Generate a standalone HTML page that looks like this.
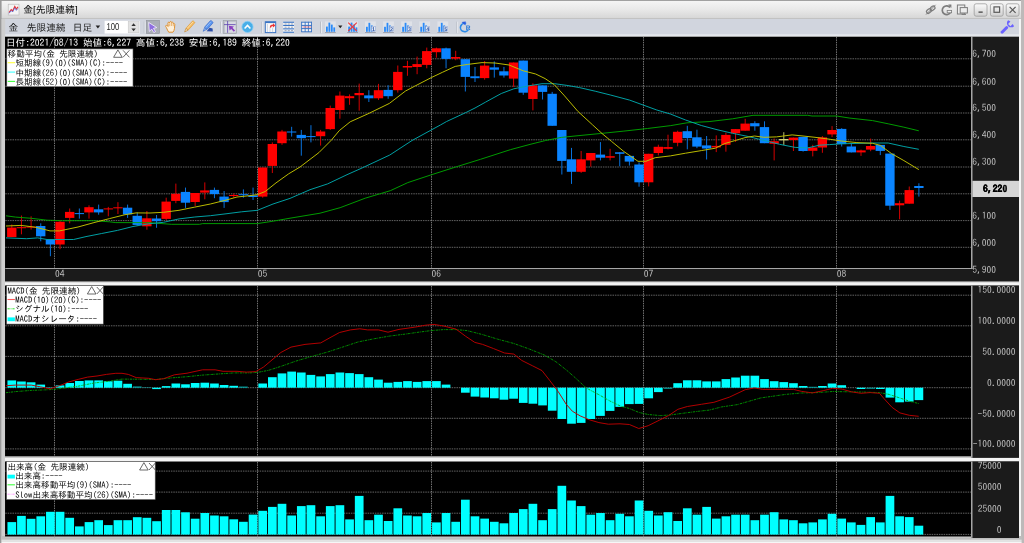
<!DOCTYPE html>
<html lang="ja"><head><meta charset="utf-8"><title>金[先限連続]</title>
<style>html,body{margin:0;padding:0;background:#d2d2d2}body{width:1024px;height:543px;position:relative;overflow:hidden}svg{will-change:transform}svg text{text-rendering:geometricPrecision}</style>
</head><body>
<svg width="1024" height="543" viewBox="0 0 1024 543" style="position:absolute;left:0;top:0">
<defs>
<linearGradient id="tg" x1="0" y1="0" x2="0" y2="1"><stop offset="0" stop-color="#f6f6f6"/><stop offset="0.5" stop-color="#e9e9e9"/><stop offset="1" stop-color="#d6d6d6"/></linearGradient>
<linearGradient id="bg" x1="0" y1="0" x2="0" y2="1"><stop offset="0" stop-color="#fbfbfb"/><stop offset="1" stop-color="#cfcfcf"/></linearGradient>
<clipPath id="cpM"><rect x="5.3" y="37" width="965.7" height="231.5"/></clipPath>
<clipPath id="cpX"><rect x="5.3" y="286" width="965.7" height="170.3"/></clipPath>
<clipPath id="cpA"><rect x="972.5" y="37" width="46.5" height="506"/></clipPath>
</defs>
<rect x="0" y="0" width="1024" height="543" fill="#d2d2d2"/>
<rect x="0" y="0" width="1024" height="18.6" fill="url(#tg)"/>
<rect x="0" y="0" width="1024" height="0.8" fill="#8c8c8c"/>
<rect x="0" y="18.2" width="1024" height="0.8" fill="#bdbdbd"/>
<rect x="2.5" y="19" width="1017" height="16.4" fill="#d1d5de"/>
<rect x="2.5" y="34.2" width="1017" height="2.5" fill="#e4e7ec"/>
<rect x="0" y="0" width="1.6" height="543" fill="#9a9a9a"/>
<rect x="1.6" y="19" width="3.6" height="524" fill="#cfcfcf"/>
<rect x="1019" y="19" width="2" height="520" fill="#f4f4f4"/>
<rect x="1021" y="0" width="3" height="543" fill="#bdb9b9"/>
<rect x="1.6" y="536" width="1020" height="3.8" fill="#bebebe"/>
<rect x="1.6" y="539.7" width="1020" height="2.4" fill="#e2e2e2"/>
<rect x="1.6" y="542" width="1020" height="1" fill="#f6f6f6"/>
<rect x="5" y="36.7" width="1014" height="245.3" fill="#1b1b1b"/>
<rect x="5.3" y="36.7" width="965.7" height="231.6" fill="#000"/>
<rect x="5" y="281.7" width="1014" height="3.8" fill="#f4f4f4"/>
<rect x="5" y="281.7" width="1014" height="1" fill="#d6d6d6"/>
<rect x="5" y="285.4" width="1014" height="172.6" fill="#1b1b1b"/>
<rect x="5.3" y="285.4" width="965.7" height="0.7" fill="#8c8c8c"/>
<rect x="5.3" y="286" width="965.7" height="170.3" fill="#000"/>
<rect x="5" y="456.3" width="966.0" height="1.7" fill="#c4c4c4"/>
<rect x="5" y="457.9" width="1014" height="3.5" fill="#f4f4f4"/>
<rect x="5" y="461.3" width="1014" height="76.7" fill="#1b1b1b"/>
<rect x="5.3" y="461.3" width="965.7" height="0.8" fill="#8c8c8c"/>
<rect x="5.3" y="462" width="965.7" height="74.5" fill="#000"/>
<rect x="5" y="536.5" width="966.0" height="1.6" fill="#c4c4c4"/>
<line x1="5.3" y1="58.8" x2="971.0" y2="58.8" stroke="#8e8e8e" stroke-width="0.7" stroke-dasharray="1.5 0.9" fill="none"/>
<line x1="5.3" y1="86.2" x2="971.0" y2="86.2" stroke="#8e8e8e" stroke-width="0.7" stroke-dasharray="1.5 0.9" fill="none"/>
<line x1="5.3" y1="113.0" x2="971.0" y2="113.0" stroke="#8e8e8e" stroke-width="0.7" stroke-dasharray="1.5 0.9" fill="none"/>
<line x1="5.3" y1="139.8" x2="971.0" y2="139.8" stroke="#8e8e8e" stroke-width="0.7" stroke-dasharray="1.5 0.9" fill="none"/>
<line x1="5.3" y1="167.0" x2="971.0" y2="167.0" stroke="#8e8e8e" stroke-width="0.7" stroke-dasharray="1.5 0.9" fill="none"/>
<line x1="5.3" y1="193.8" x2="971.0" y2="193.8" stroke="#8e8e8e" stroke-width="0.7" stroke-dasharray="1.5 0.9" fill="none"/>
<line x1="5.3" y1="220.6" x2="971.0" y2="220.6" stroke="#8e8e8e" stroke-width="0.7" stroke-dasharray="1.5 0.9" fill="none"/>
<line x1="5.3" y1="247.3" x2="971.0" y2="247.3" stroke="#8e8e8e" stroke-width="0.7" stroke-dasharray="1.5 0.9" fill="none"/>
<line x1="5.3" y1="295.2" x2="971.0" y2="295.2" stroke="#8e8e8e" stroke-width="0.7" stroke-dasharray="1.5 0.9" fill="none"/>
<line x1="5.3" y1="325.8" x2="971.0" y2="325.8" stroke="#8e8e8e" stroke-width="0.7" stroke-dasharray="1.5 0.9" fill="none"/>
<line x1="5.3" y1="356.4" x2="971.0" y2="356.4" stroke="#8e8e8e" stroke-width="0.7" stroke-dasharray="1.5 0.9" fill="none"/>
<line x1="5.3" y1="387.7" x2="971.0" y2="387.7" stroke="#8e8e8e" stroke-width="0.7" stroke-dasharray="1.5 0.9" fill="none"/>
<line x1="5.3" y1="418.3" x2="971.0" y2="418.3" stroke="#8e8e8e" stroke-width="0.7" stroke-dasharray="1.5 0.9" fill="none"/>
<line x1="5.3" y1="448.9" x2="971.0" y2="448.9" stroke="#8e8e8e" stroke-width="0.7" stroke-dasharray="1.5 0.9" fill="none"/>
<line x1="5.3" y1="471.1" x2="971.0" y2="471.1" stroke="#8e8e8e" stroke-width="0.7" stroke-dasharray="1.5 0.9" fill="none"/>
<line x1="5.3" y1="492.1" x2="971.0" y2="492.1" stroke="#8e8e8e" stroke-width="0.7" stroke-dasharray="1.5 0.9" fill="none"/>
<line x1="5.3" y1="513.2" x2="971.0" y2="513.2" stroke="#8e8e8e" stroke-width="0.7" stroke-dasharray="1.5 0.9" fill="none"/>
<line x1="5.3" y1="534.4" x2="971.0" y2="534.4" stroke="#8e8e8e" stroke-width="0.7" stroke-dasharray="1.5 0.9" fill="none"/>
<line x1="54.5" y1="37" x2="54.5" y2="268.5" stroke="#a4a4a4" stroke-width="0.7" stroke-dasharray="1.5 0.9" fill="none"/>
<line x1="54.5" y1="286" x2="54.5" y2="456.3" stroke="#a4a4a4" stroke-width="0.7" stroke-dasharray="1.5 0.9" fill="none"/>
<line x1="54.5" y1="462" x2="54.5" y2="537.8" stroke="#a4a4a4" stroke-width="0.7" stroke-dasharray="1.5 0.9" fill="none"/>
<line x1="257.5" y1="37" x2="257.5" y2="268.5" stroke="#a4a4a4" stroke-width="0.7" stroke-dasharray="1.5 0.9" fill="none"/>
<line x1="257.5" y1="286" x2="257.5" y2="456.3" stroke="#a4a4a4" stroke-width="0.7" stroke-dasharray="1.5 0.9" fill="none"/>
<line x1="257.5" y1="462" x2="257.5" y2="537.8" stroke="#a4a4a4" stroke-width="0.7" stroke-dasharray="1.5 0.9" fill="none"/>
<line x1="431.5" y1="37" x2="431.5" y2="268.5" stroke="#a4a4a4" stroke-width="0.7" stroke-dasharray="1.5 0.9" fill="none"/>
<line x1="431.5" y1="286" x2="431.5" y2="456.3" stroke="#a4a4a4" stroke-width="0.7" stroke-dasharray="1.5 0.9" fill="none"/>
<line x1="431.5" y1="462" x2="431.5" y2="537.8" stroke="#a4a4a4" stroke-width="0.7" stroke-dasharray="1.5 0.9" fill="none"/>
<line x1="643.5" y1="37" x2="643.5" y2="268.5" stroke="#a4a4a4" stroke-width="0.7" stroke-dasharray="1.5 0.9" fill="none"/>
<line x1="643.5" y1="286" x2="643.5" y2="456.3" stroke="#a4a4a4" stroke-width="0.7" stroke-dasharray="1.5 0.9" fill="none"/>
<line x1="643.5" y1="462" x2="643.5" y2="537.8" stroke="#a4a4a4" stroke-width="0.7" stroke-dasharray="1.5 0.9" fill="none"/>
<line x1="836.5" y1="37" x2="836.5" y2="268.5" stroke="#a4a4a4" stroke-width="0.7" stroke-dasharray="1.5 0.9" fill="none"/>
<line x1="836.5" y1="286" x2="836.5" y2="456.3" stroke="#a4a4a4" stroke-width="0.7" stroke-dasharray="1.5 0.9" fill="none"/>
<line x1="836.5" y1="462" x2="836.5" y2="537.8" stroke="#a4a4a4" stroke-width="0.7" stroke-dasharray="1.5 0.9" fill="none"/>
<rect x="5.3" y="268" width="967.2" height="1" fill="#a6a6a6"/>
<rect x="5.3" y="36.3" width="967.2" height="0.7" fill="#b8b8b8"/>
<rect x="971.0" y="37" width="1.5" height="232" fill="#a6a6a6"/>
<rect x="971.0" y="285.4" width="1.5" height="172.5" fill="#a6a6a6"/>
<rect x="971.0" y="461.3" width="1.5" height="76.6" fill="#a6a6a6"/>
<g clip-path="url(#cpM)">
<line x1="11.80" y1="224.5" x2="11.80" y2="237.1" stroke="#e00000" stroke-width="0.95"/>
<rect x="7.10" y="227.6" width="9.35" height="9.5" fill="#ff0000"/>
<line x1="21.45" y1="215.5" x2="21.45" y2="234.3" stroke="#e00000" stroke-width="0.95"/>
<rect x="16.75" y="227.2" width="9.35" height="1.0" fill="#ff0000"/>
<line x1="31.10" y1="216.3" x2="31.10" y2="229.6" stroke="#e00000" stroke-width="0.95"/>
<rect x="26.40" y="226.6" width="9.35" height="1.0" fill="#ff0000"/>
<line x1="40.75" y1="223.3" x2="40.75" y2="241.3" stroke="#0a78e8" stroke-width="0.95"/>
<rect x="36.05" y="226.0" width="9.35" height="10.3" fill="#0a84ff"/>
<line x1="50.40" y1="239.5" x2="50.40" y2="256.2" stroke="#0a78e8" stroke-width="0.95"/>
<rect x="45.70" y="239.5" width="9.35" height="5.0" fill="#0a84ff"/>
<line x1="60.05" y1="221.0" x2="60.05" y2="249.2" stroke="#e00000" stroke-width="0.95"/>
<rect x="55.35" y="221.8" width="9.35" height="22.7" fill="#ff0000"/>
<line x1="69.70" y1="208.5" x2="69.70" y2="223.3" stroke="#e00000" stroke-width="0.95"/>
<rect x="65.00" y="211.9" width="9.35" height="6.0" fill="#ff0000"/>
<line x1="79.35" y1="208.5" x2="79.35" y2="218.6" stroke="#0a78e8" stroke-width="0.95"/>
<rect x="74.65" y="213.1" width="9.35" height="1.0" fill="#0a84ff"/>
<line x1="89.00" y1="205.3" x2="89.00" y2="218.6" stroke="#e00000" stroke-width="0.95"/>
<rect x="84.30" y="207.2" width="9.35" height="5.2" fill="#ff0000"/>
<line x1="98.65" y1="204.6" x2="98.65" y2="214.7" stroke="#0a78e8" stroke-width="0.95"/>
<rect x="93.95" y="209.3" width="9.35" height="3.1" fill="#0a84ff"/>
<line x1="108.30" y1="206.9" x2="108.30" y2="216.3" stroke="#e00000" stroke-width="0.95"/>
<rect x="103.60" y="208.4" width="9.35" height="1.0" fill="#ff0000"/>
<line x1="117.95" y1="202.2" x2="117.95" y2="214.0" stroke="#e00000" stroke-width="0.95"/>
<rect x="113.25" y="207.3" width="9.35" height="1.0" fill="#ff0000"/>
<line x1="127.60" y1="204.6" x2="127.60" y2="217.9" stroke="#0a78e8" stroke-width="0.95"/>
<rect x="122.90" y="207.7" width="9.35" height="6.7" fill="#0a84ff"/>
<line x1="137.25" y1="212.4" x2="137.25" y2="225.7" stroke="#0a78e8" stroke-width="0.95"/>
<rect x="132.55" y="215.8" width="9.35" height="9.1" fill="#0a84ff"/>
<line x1="146.90" y1="211.0" x2="146.90" y2="229.7" stroke="#e00000" stroke-width="0.95"/>
<rect x="142.20" y="218.3" width="9.35" height="8.0" fill="#ff0000"/>
<line x1="156.55" y1="215.0" x2="156.55" y2="227.8" stroke="#0a78e8" stroke-width="0.95"/>
<rect x="151.85" y="218.5" width="9.35" height="2.7" fill="#0a84ff"/>
<line x1="166.20" y1="197.7" x2="166.20" y2="220.4" stroke="#e00000" stroke-width="0.95"/>
<rect x="161.50" y="201.6" width="9.35" height="17.3" fill="#ff0000"/>
<line x1="175.85" y1="183.6" x2="175.85" y2="203.2" stroke="#e00000" stroke-width="0.95"/>
<rect x="171.15" y="193.8" width="9.35" height="7.1" fill="#ff0000"/>
<line x1="185.50" y1="187.6" x2="185.50" y2="207.9" stroke="#0a78e8" stroke-width="0.95"/>
<rect x="180.80" y="191.9" width="9.35" height="10.8" fill="#0a84ff"/>
<line x1="195.15" y1="193.0" x2="195.15" y2="206.0" stroke="#e00000" stroke-width="0.95"/>
<rect x="190.45" y="193.0" width="9.35" height="9.0" fill="#ff0000"/>
<line x1="204.80" y1="182.4" x2="204.80" y2="199.3" stroke="#e00000" stroke-width="0.95"/>
<rect x="200.10" y="190.4" width="9.35" height="2.2" fill="#ff0000"/>
<line x1="214.45" y1="187.6" x2="214.45" y2="198.2" stroke="#0a78e8" stroke-width="0.95"/>
<rect x="209.75" y="189.9" width="9.35" height="4.2" fill="#0a84ff"/>
<line x1="224.10" y1="191.0" x2="224.10" y2="207.9" stroke="#0a78e8" stroke-width="0.95"/>
<rect x="219.40" y="196.6" width="9.35" height="5.5" fill="#0a84ff"/>
<line x1="233.75" y1="193.5" x2="233.75" y2="197.7" stroke="#e00000" stroke-width="0.95"/>
<rect x="229.05" y="195.0" width="9.35" height="1.0" fill="#ff0000"/>
<line x1="243.40" y1="189.4" x2="243.40" y2="197.7" stroke="#0a78e8" stroke-width="0.95"/>
<rect x="238.70" y="194.2" width="9.35" height="1.0" fill="#0a84ff"/>
<line x1="253.05" y1="187.6" x2="253.05" y2="200.0" stroke="#0a78e8" stroke-width="0.95"/>
<rect x="248.35" y="195.4" width="9.35" height="1.6" fill="#0a84ff"/>
<line x1="262.70" y1="167.5" x2="262.70" y2="197.7" stroke="#e00000" stroke-width="0.95"/>
<rect x="258.00" y="167.5" width="9.35" height="29.1" fill="#ff0000"/>
<line x1="272.35" y1="142.4" x2="272.35" y2="173.0" stroke="#e00000" stroke-width="0.95"/>
<rect x="267.65" y="144.0" width="9.35" height="21.9" fill="#ff0000"/>
<line x1="282.00" y1="129.9" x2="282.00" y2="144.8" stroke="#e00000" stroke-width="0.95"/>
<rect x="277.30" y="131.5" width="9.35" height="11.7" fill="#ff0000"/>
<line x1="291.65" y1="126.8" x2="291.65" y2="136.6" stroke="#0a78e8" stroke-width="0.95"/>
<rect x="286.95" y="131.5" width="9.35" height="1.0" fill="#0a84ff"/>
<line x1="301.30" y1="129.9" x2="301.30" y2="155.7" stroke="#0a78e8" stroke-width="0.95"/>
<rect x="296.60" y="134.9" width="9.35" height="3.3" fill="#0a84ff"/>
<line x1="310.95" y1="125.2" x2="310.95" y2="142.4" stroke="#0a78e8" stroke-width="0.95"/>
<rect x="306.25" y="136.1" width="9.35" height="1.0" fill="#0a84ff"/>
<line x1="320.60" y1="129.9" x2="320.60" y2="145.6" stroke="#e00000" stroke-width="0.95"/>
<rect x="315.90" y="131.5" width="9.35" height="4.7" fill="#ff0000"/>
<line x1="330.25" y1="105.6" x2="330.25" y2="129.9" stroke="#e00000" stroke-width="0.95"/>
<rect x="325.55" y="108.0" width="9.35" height="21.1" fill="#ff0000"/>
<line x1="339.90" y1="91.5" x2="339.90" y2="118.7" stroke="#e00000" stroke-width="0.95"/>
<rect x="335.20" y="95.6" width="9.35" height="14.4" fill="#ff0000"/>
<line x1="349.55" y1="94.4" x2="349.55" y2="104.8" stroke="#e00000" stroke-width="0.95"/>
<rect x="344.85" y="96.2" width="9.35" height="2.0" fill="#ff0000"/>
<line x1="359.20" y1="83.6" x2="359.20" y2="110.7" stroke="#e00000" stroke-width="0.95"/>
<rect x="354.50" y="93.0" width="9.35" height="2.2" fill="#ff0000"/>
<line x1="368.85" y1="90.2" x2="368.85" y2="102.0" stroke="#0a78e8" stroke-width="0.95"/>
<rect x="364.15" y="95.4" width="9.35" height="2.9" fill="#0a84ff"/>
<line x1="378.50" y1="83.9" x2="378.50" y2="99.9" stroke="#e00000" stroke-width="0.95"/>
<rect x="373.80" y="90.2" width="9.35" height="8.1" fill="#ff0000"/>
<line x1="388.15" y1="85.2" x2="388.15" y2="98.8" stroke="#0a78e8" stroke-width="0.95"/>
<rect x="383.45" y="89.9" width="9.35" height="6.3" fill="#0a84ff"/>
<line x1="397.80" y1="65.5" x2="397.80" y2="92.6" stroke="#e00000" stroke-width="0.95"/>
<rect x="393.10" y="71.9" width="9.35" height="18.3" fill="#ff0000"/>
<line x1="407.45" y1="60.8" x2="407.45" y2="75.8" stroke="#e00000" stroke-width="0.95"/>
<rect x="402.75" y="66.0" width="9.35" height="1.5" fill="#ff0000"/>
<line x1="417.10" y1="56.6" x2="417.10" y2="74.2" stroke="#e00000" stroke-width="0.95"/>
<rect x="412.40" y="64.1" width="9.35" height="2.9" fill="#ff0000"/>
<line x1="426.75" y1="47.6" x2="426.75" y2="68.3" stroke="#e00000" stroke-width="0.95"/>
<rect x="422.05" y="51.1" width="9.35" height="13.8" fill="#ff0000"/>
<line x1="436.40" y1="47.6" x2="436.40" y2="57.7" stroke="#e00000" stroke-width="0.95"/>
<rect x="431.70" y="48.3" width="9.35" height="3.9" fill="#ff0000"/>
<line x1="446.05" y1="47.6" x2="446.05" y2="68.3" stroke="#0a78e8" stroke-width="0.95"/>
<rect x="441.35" y="48.3" width="9.35" height="10.6" fill="#0a84ff"/>
<line x1="455.70" y1="50.8" x2="455.70" y2="60.2" stroke="#e00000" stroke-width="0.95"/>
<rect x="451.00" y="57.0" width="9.35" height="1.6" fill="#ff0000"/>
<line x1="465.35" y1="59.2" x2="465.35" y2="91.5" stroke="#0a78e8" stroke-width="0.95"/>
<rect x="460.65" y="59.2" width="9.35" height="17.7" fill="#0a84ff"/>
<line x1="475.00" y1="67.0" x2="475.00" y2="82.0" stroke="#0a78e8" stroke-width="0.95"/>
<rect x="470.30" y="76.3" width="9.35" height="1.9" fill="#0a84ff"/>
<line x1="484.65" y1="61.0" x2="484.65" y2="79.7" stroke="#e00000" stroke-width="0.95"/>
<rect x="479.95" y="65.6" width="9.35" height="12.5" fill="#ff0000"/>
<line x1="494.30" y1="61.4" x2="494.30" y2="77.6" stroke="#0a78e8" stroke-width="0.95"/>
<rect x="489.60" y="67.4" width="9.35" height="2.3" fill="#0a84ff"/>
<line x1="503.95" y1="66.9" x2="503.95" y2="77.6" stroke="#0a78e8" stroke-width="0.95"/>
<rect x="499.25" y="71.3" width="9.35" height="4.2" fill="#0a84ff"/>
<line x1="513.60" y1="62.5" x2="513.60" y2="86.9" stroke="#e00000" stroke-width="0.95"/>
<rect x="508.90" y="62.5" width="9.35" height="16.1" fill="#ff0000"/>
<line x1="523.25" y1="60.6" x2="523.25" y2="94.8" stroke="#0a78e8" stroke-width="0.95"/>
<rect x="518.55" y="60.6" width="9.35" height="32.1" fill="#0a84ff"/>
<line x1="532.90" y1="83.3" x2="532.90" y2="110.4" stroke="#e00000" stroke-width="0.95"/>
<rect x="528.20" y="85.4" width="9.35" height="13.6" fill="#ff0000"/>
<line x1="542.55" y1="85.4" x2="542.55" y2="99.5" stroke="#0a78e8" stroke-width="0.95"/>
<rect x="537.85" y="85.4" width="9.35" height="6.5" fill="#0a84ff"/>
<line x1="552.20" y1="91.9" x2="552.20" y2="125.8" stroke="#0a78e8" stroke-width="0.95"/>
<rect x="547.50" y="93.8" width="9.35" height="32.0" fill="#0a84ff"/>
<line x1="561.85" y1="130.0" x2="561.85" y2="174.5" stroke="#0a78e8" stroke-width="0.95"/>
<rect x="557.15" y="130.0" width="9.35" height="30.9" fill="#0a84ff"/>
<line x1="571.50" y1="147.9" x2="571.50" y2="183.9" stroke="#0a78e8" stroke-width="0.95"/>
<rect x="566.80" y="159.3" width="9.35" height="12.5" fill="#0a84ff"/>
<line x1="581.15" y1="151.0" x2="581.15" y2="172.9" stroke="#e00000" stroke-width="0.95"/>
<rect x="576.45" y="159.3" width="9.35" height="12.5" fill="#ff0000"/>
<line x1="590.80" y1="153.0" x2="590.80" y2="166.7" stroke="#e00000" stroke-width="0.95"/>
<rect x="586.10" y="153.0" width="9.35" height="7.4" fill="#ff0000"/>
<line x1="600.45" y1="142.1" x2="600.45" y2="160.4" stroke="#0a78e8" stroke-width="0.95"/>
<rect x="595.75" y="154.6" width="9.35" height="3.1" fill="#0a84ff"/>
<line x1="610.10" y1="148.8" x2="610.10" y2="160.4" stroke="#e00000" stroke-width="0.95"/>
<rect x="605.40" y="156.2" width="9.35" height="1.5" fill="#ff0000"/>
<line x1="619.75" y1="152.3" x2="619.75" y2="166.3" stroke="#0a78e8" stroke-width="0.95"/>
<rect x="615.05" y="152.3" width="9.35" height="1.5" fill="#0a84ff"/>
<line x1="629.40" y1="155.9" x2="629.40" y2="165.6" stroke="#0a78e8" stroke-width="0.95"/>
<rect x="624.70" y="155.9" width="9.35" height="5.7" fill="#0a84ff"/>
<line x1="639.05" y1="162.4" x2="639.05" y2="186.7" stroke="#0a78e8" stroke-width="0.95"/>
<rect x="634.35" y="164.5" width="9.35" height="17.8" fill="#0a84ff"/>
<line x1="648.70" y1="153.8" x2="648.70" y2="186.4" stroke="#e00000" stroke-width="0.95"/>
<rect x="644.00" y="153.8" width="9.35" height="28.5" fill="#ff0000"/>
<line x1="658.35" y1="144.7" x2="658.35" y2="155.4" stroke="#e00000" stroke-width="0.95"/>
<rect x="653.65" y="146.8" width="9.35" height="6.2" fill="#ff0000"/>
<line x1="668.00" y1="134.7" x2="668.00" y2="149.4" stroke="#e00000" stroke-width="0.95"/>
<rect x="663.30" y="147.1" width="9.35" height="1.7" fill="#ff0000"/>
<line x1="677.65" y1="130.7" x2="677.65" y2="146.3" stroke="#e00000" stroke-width="0.95"/>
<rect x="672.95" y="131.8" width="9.35" height="11.0" fill="#ff0000"/>
<line x1="687.30" y1="125.8" x2="687.30" y2="149.3" stroke="#0a78e8" stroke-width="0.95"/>
<rect x="682.60" y="131.2" width="9.35" height="6.9" fill="#0a84ff"/>
<line x1="696.95" y1="129.7" x2="696.95" y2="148.2" stroke="#0a78e8" stroke-width="0.95"/>
<rect x="692.25" y="137.3" width="9.35" height="9.3" fill="#0a84ff"/>
<line x1="706.60" y1="136.0" x2="706.60" y2="159.5" stroke="#0a78e8" stroke-width="0.95"/>
<rect x="701.90" y="145.4" width="9.35" height="3.1" fill="#0a84ff"/>
<line x1="716.25" y1="135.4" x2="716.25" y2="152.1" stroke="#e00000" stroke-width="0.95"/>
<rect x="711.55" y="145.9" width="9.35" height="1.5" fill="#ff0000"/>
<line x1="725.90" y1="132.6" x2="725.90" y2="151.7" stroke="#e00000" stroke-width="0.95"/>
<rect x="721.20" y="134.9" width="9.35" height="9.9" fill="#ff0000"/>
<line x1="735.55" y1="129.1" x2="735.55" y2="141.9" stroke="#e00000" stroke-width="0.95"/>
<rect x="730.85" y="129.1" width="9.35" height="4.2" fill="#ff0000"/>
<line x1="745.20" y1="118.8" x2="745.20" y2="130.7" stroke="#e00000" stroke-width="0.95"/>
<rect x="740.50" y="123.6" width="9.35" height="7.1" fill="#ff0000"/>
<line x1="754.85" y1="121.3" x2="754.85" y2="130.7" stroke="#0a78e8" stroke-width="0.95"/>
<rect x="750.15" y="123.2" width="9.35" height="3.1" fill="#0a84ff"/>
<line x1="764.50" y1="121.3" x2="764.50" y2="143.2" stroke="#0a78e8" stroke-width="0.95"/>
<rect x="759.80" y="127.1" width="9.35" height="16.1" fill="#0a84ff"/>
<line x1="774.15" y1="138.5" x2="774.15" y2="160.4" stroke="#e00000" stroke-width="0.95"/>
<rect x="769.45" y="141.2" width="9.35" height="2.6" fill="#ff0000"/>
<line x1="783.80" y1="132.2" x2="783.80" y2="145.1" stroke="#c8c870" stroke-width="0.95"/>
<rect x="779.10" y="139.0" width="9.35" height="1.4" fill="#d2d278"/>
<line x1="793.45" y1="137.6" x2="793.45" y2="151.0" stroke="#e00000" stroke-width="0.95"/>
<rect x="788.75" y="137.6" width="9.35" height="2.5" fill="#ff0000"/>
<line x1="803.10" y1="136.9" x2="803.10" y2="151.6" stroke="#0a78e8" stroke-width="0.95"/>
<rect x="798.40" y="136.9" width="9.35" height="14.1" fill="#0a84ff"/>
<line x1="812.75" y1="144.8" x2="812.75" y2="156.4" stroke="#e00000" stroke-width="0.95"/>
<rect x="808.05" y="147.5" width="9.35" height="3.3" fill="#ff0000"/>
<line x1="822.40" y1="136.1" x2="822.40" y2="152.8" stroke="#e00000" stroke-width="0.95"/>
<rect x="817.70" y="137.4" width="9.35" height="10.1" fill="#ff0000"/>
<line x1="832.05" y1="126.1" x2="832.05" y2="137.1" stroke="#e00000" stroke-width="0.95"/>
<rect x="827.35" y="130.0" width="9.35" height="4.4" fill="#ff0000"/>
<line x1="841.70" y1="128.2" x2="841.70" y2="146.5" stroke="#0a78e8" stroke-width="0.95"/>
<rect x="837.00" y="128.9" width="9.35" height="15.2" fill="#0a84ff"/>
<line x1="851.35" y1="143.3" x2="851.35" y2="152.4" stroke="#0a78e8" stroke-width="0.95"/>
<rect x="846.65" y="146.5" width="9.35" height="5.9" fill="#0a84ff"/>
<line x1="861.00" y1="149.6" x2="861.00" y2="155.9" stroke="#e00000" stroke-width="0.95"/>
<rect x="856.30" y="150.4" width="9.35" height="2.0" fill="#ff0000"/>
<line x1="870.65" y1="138.6" x2="870.65" y2="151.2" stroke="#e00000" stroke-width="0.95"/>
<rect x="865.95" y="146.0" width="9.35" height="3.6" fill="#ff0000"/>
<line x1="880.30" y1="144.9" x2="880.30" y2="155.1" stroke="#0a78e8" stroke-width="0.95"/>
<rect x="875.60" y="144.9" width="9.35" height="6.0" fill="#0a84ff"/>
<line x1="889.95" y1="153.6" x2="889.95" y2="209.9" stroke="#0a78e8" stroke-width="0.95"/>
<rect x="885.25" y="153.6" width="9.35" height="52.1" fill="#0a84ff"/>
<line x1="899.60" y1="200.6" x2="899.60" y2="219.3" stroke="#e00000" stroke-width="0.95"/>
<rect x="894.90" y="203.2" width="9.35" height="2.1" fill="#ff0000"/>
<line x1="909.25" y1="186.5" x2="909.25" y2="203.7" stroke="#e00000" stroke-width="0.95"/>
<rect x="904.55" y="190.1" width="9.35" height="13.6" fill="#ff0000"/>
<line x1="918.90" y1="183.3" x2="918.90" y2="196.6" stroke="#0a78e8" stroke-width="0.95"/>
<rect x="914.20" y="186.0" width="9.35" height="2.0" fill="#0a84ff"/>
</g>
<g clip-path="url(#cpM)" fill="none" stroke-width="0.95" stroke-linejoin="round">
<polyline points="6.0,215.8 15.6,217.1 31.3,218.3 47.0,220.2 62.6,220.7 94.0,220.7 109.5,221.8 115.8,222.6 150.0,222.7 171.3,224.3 199.5,224.3 202.6,223.6 257.4,223.6 273.0,221.2 290.0,218.2 320.0,213.2 340.1,207.7 365.2,198.2 390.3,190.7 407.8,182.6 430.4,175.1 455.4,167.1 480.5,159.3 510.6,149.6 530.0,144.4 545.6,140.5 561.3,137.4 577.0,135.8 600.4,133.5 623.9,131.1 647.4,128.5 670.8,125.6 687.0,122.8 709.1,121.6 732.6,118.8 753.0,115.3 807.7,115.3 812.0,116.0 836.6,116.0 849.1,118.0 872.6,120.6 888.2,123.8 903.9,127.2 918.8,130.8" stroke="#00a200"/>
<polyline points="6.0,237.9 26.6,238.7 37.6,237.9 47.0,239.5 73.6,239.5 86.0,236.6 101.7,233.5 117.4,230.4 133.0,226.5 148.7,223.8 163.5,222.3 179.0,218.9 194.8,217.0 210.4,215.7 226.0,213.8 241.7,211.8 257.4,210.3 273.0,204.0 290.0,198.4 310.0,189.7 327.6,183.9 347.0,174.7 362.0,168.0 389.8,155.0 412.0,140.5 440.4,125.0 446.6,121.5 466.2,112.4 475.0,108.0 485.6,102.1 501.3,93.5 513.8,88.8 529.5,85.7 542.0,83.7 554.5,83.7 567.0,85.4 579.5,87.6 595.2,91.2 610.8,95.1 629.6,100.1 656.8,110.0 670.4,114.0 685.6,120.0 701.3,125.5 717.0,129.7 732.6,133.3 748.2,136.5 763.9,140.4 779.5,144.3 795.2,147.4 807.7,147.9 819.4,145.2 829.6,144.6 841.3,143.8 872.6,143.0 888.2,143.0 903.9,146.5 918.8,149.3" stroke="#00a8ac"/>
<polyline points="6.0,226.0 21.0,225.4 36.0,227.3 50.0,230.9 59.5,230.9 78.0,227.0 94.0,222.6 109.5,218.6 125.0,214.7 136.0,212.9 150.0,213.0 163.5,212.3 179.0,210.3 194.8,207.1 210.4,204.0 226.0,200.1 237.0,197.0 249.5,195.7 257.4,194.6 265.2,191.5 276.0,182.9 288.7,173.8 300.0,167.0 318.9,152.6 331.4,140.1 339.2,130.7 350.2,121.8 368.0,113.8 389.4,103.4 405.5,91.0 414.5,86.3 431.7,77.4 442.7,72.2 455.2,66.4 467.7,64.4 482.0,62.6 495.0,63.0 509.1,65.0 523.2,70.8 535.7,74.0 545.1,78.6 554.5,84.9 563.9,95.1 578.0,111.5 592.6,124.9 602.0,133.5 611.4,141.3 623.9,151.5 638.0,161.3 645.8,161.3 655.2,157.7 670.4,155.9 685.6,153.2 701.3,150.6 715.4,148.2 724.8,143.5 735.7,140.4 745.1,137.6 754.5,136.0 763.9,137.3 776.4,136.9 792.1,134.9 803.0,136.0 814.0,137.2 825.6,138.6 841.3,141.0 856.9,142.6 872.6,143.3 880.4,145.4 891.4,153.5 903.9,160.6 918.8,169.6" stroke="#c4c400"/>
</g>
<g clip-path="url(#cpX)">
<rect x="7.45" y="380.4" width="8.7" height="7.3" fill="#00ffff"/>
<rect x="17.10" y="381.5" width="8.7" height="6.2" fill="#00ffff"/>
<rect x="26.75" y="382.3" width="8.7" height="5.4" fill="#00ffff"/>
<rect x="36.40" y="384.6" width="8.7" height="3.1" fill="#00ffff"/>
<rect x="46.05" y="387.2" width="8.7" height="0.5" fill="#00b4b4"/>
<rect x="55.70" y="385.4" width="8.7" height="2.3" fill="#00ffff"/>
<rect x="65.35" y="383.0" width="8.7" height="4.7" fill="#00ffff"/>
<rect x="75.00" y="381.0" width="8.7" height="6.7" fill="#00ffff"/>
<rect x="84.65" y="380.4" width="8.7" height="7.3" fill="#00ffff"/>
<rect x="94.30" y="380.4" width="8.7" height="7.3" fill="#00ffff"/>
<rect x="103.95" y="381.2" width="8.7" height="6.5" fill="#00ffff"/>
<rect x="113.60" y="380.7" width="8.7" height="7.0" fill="#00ffff"/>
<rect x="123.25" y="383.8" width="8.7" height="3.9" fill="#00ffff"/>
<rect x="132.90" y="386.5" width="8.7" height="1.2" fill="#00b4b4"/>
<rect x="142.55" y="387.3" width="8.7" height="0.4" fill="#00b4b4"/>
<rect x="152.20" y="387.7" width="8.7" height="1.4" fill="#00ffff"/>
<rect x="161.85" y="386.1" width="8.7" height="1.6" fill="#00ffff"/>
<rect x="171.50" y="383.5" width="8.7" height="4.2" fill="#00ffff"/>
<rect x="181.15" y="384.3" width="8.7" height="3.4" fill="#00ffff"/>
<rect x="190.80" y="383.0" width="8.7" height="4.7" fill="#00ffff"/>
<rect x="200.45" y="382.7" width="8.7" height="5.0" fill="#00ffff"/>
<rect x="210.10" y="383.5" width="8.7" height="4.2" fill="#00ffff"/>
<rect x="219.75" y="385.0" width="8.7" height="2.7" fill="#00ffff"/>
<rect x="229.40" y="385.8" width="8.7" height="1.9" fill="#00ffff"/>
<rect x="239.05" y="386.6" width="8.7" height="1.1" fill="#00b4b4"/>
<rect x="258.35" y="383.5" width="8.7" height="4.2" fill="#00ffff"/>
<rect x="268.00" y="377.2" width="8.7" height="10.5" fill="#00ffff"/>
<rect x="277.65" y="373.4" width="8.7" height="14.3" fill="#00ffff"/>
<rect x="287.30" y="371.6" width="8.7" height="16.1" fill="#00ffff"/>
<rect x="296.95" y="372.5" width="8.7" height="15.2" fill="#00ffff"/>
<rect x="306.60" y="374.9" width="8.7" height="12.8" fill="#00ffff"/>
<rect x="316.25" y="376.4" width="8.7" height="11.3" fill="#00ffff"/>
<rect x="325.90" y="374.1" width="8.7" height="13.6" fill="#00ffff"/>
<rect x="335.55" y="372.5" width="8.7" height="15.2" fill="#00ffff"/>
<rect x="345.20" y="373.1" width="8.7" height="14.6" fill="#00ffff"/>
<rect x="354.85" y="374.1" width="8.7" height="13.6" fill="#00ffff"/>
<rect x="364.50" y="377.2" width="8.7" height="10.5" fill="#00ffff"/>
<rect x="374.15" y="379.6" width="8.7" height="8.1" fill="#00ffff"/>
<rect x="383.80" y="382.7" width="8.7" height="5.0" fill="#00ffff"/>
<rect x="393.45" y="381.9" width="8.7" height="5.8" fill="#00ffff"/>
<rect x="403.10" y="381.1" width="8.7" height="6.6" fill="#00ffff"/>
<rect x="412.75" y="381.9" width="8.7" height="5.8" fill="#00ffff"/>
<rect x="422.40" y="381.1" width="8.7" height="6.6" fill="#00ffff"/>
<rect x="432.05" y="381.1" width="8.7" height="6.6" fill="#00ffff"/>
<rect x="441.70" y="384.6" width="8.7" height="3.1" fill="#00ffff"/>
<rect x="461.00" y="387.7" width="8.7" height="5.0" fill="#00ffff"/>
<rect x="470.65" y="387.7" width="8.7" height="8.9" fill="#00ffff"/>
<rect x="480.30" y="387.7" width="8.7" height="9.8" fill="#00ffff"/>
<rect x="489.95" y="387.7" width="8.7" height="10.6" fill="#00ffff"/>
<rect x="499.60" y="387.7" width="8.7" height="12.0" fill="#00ffff"/>
<rect x="509.25" y="387.7" width="8.7" height="11.0" fill="#00ffff"/>
<rect x="518.90" y="387.7" width="8.7" height="15.2" fill="#00ffff"/>
<rect x="528.55" y="387.7" width="8.7" height="16.0" fill="#00ffff"/>
<rect x="538.20" y="387.7" width="8.7" height="17.7" fill="#00ffff"/>
<rect x="547.85" y="387.7" width="8.7" height="23.0" fill="#00ffff"/>
<rect x="557.50" y="387.7" width="8.7" height="31.3" fill="#00ffff"/>
<rect x="567.15" y="387.7" width="8.7" height="36.0" fill="#00ffff"/>
<rect x="576.80" y="387.7" width="8.7" height="35.2" fill="#00ffff"/>
<rect x="586.45" y="387.7" width="8.7" height="31.3" fill="#00ffff"/>
<rect x="596.10" y="387.7" width="8.7" height="28.2" fill="#00ffff"/>
<rect x="605.75" y="387.7" width="8.7" height="23.2" fill="#00ffff"/>
<rect x="615.40" y="387.7" width="8.7" height="19.2" fill="#00ffff"/>
<rect x="625.05" y="387.7" width="8.7" height="16.4" fill="#00ffff"/>
<rect x="634.70" y="387.7" width="8.7" height="16.2" fill="#00ffff"/>
<rect x="644.35" y="387.7" width="8.7" height="10.6" fill="#00ffff"/>
<rect x="654.00" y="387.7" width="8.7" height="4.4" fill="#00ffff"/>
<rect x="663.65" y="387.7" width="8.7" height="1.0" fill="#00b4b4"/>
<rect x="673.30" y="383.2" width="8.7" height="4.5" fill="#00ffff"/>
<rect x="682.95" y="380.3" width="8.7" height="7.4" fill="#00ffff"/>
<rect x="692.60" y="380.3" width="8.7" height="7.4" fill="#00ffff"/>
<rect x="702.25" y="381.4" width="8.7" height="6.3" fill="#00ffff"/>
<rect x="711.90" y="381.4" width="8.7" height="6.3" fill="#00ffff"/>
<rect x="721.55" y="379.1" width="8.7" height="8.6" fill="#00ffff"/>
<rect x="731.20" y="377.5" width="8.7" height="10.2" fill="#00ffff"/>
<rect x="740.85" y="375.7" width="8.7" height="12.0" fill="#00ffff"/>
<rect x="750.50" y="375.7" width="8.7" height="12.0" fill="#00ffff"/>
<rect x="760.15" y="379.1" width="8.7" height="8.6" fill="#00ffff"/>
<rect x="769.80" y="381.2" width="8.7" height="6.5" fill="#00ffff"/>
<rect x="779.45" y="382.1" width="8.7" height="5.6" fill="#00ffff"/>
<rect x="789.10" y="383.2" width="8.7" height="4.5" fill="#00ffff"/>
<rect x="798.75" y="386.0" width="8.7" height="1.7" fill="#00ffff"/>
<rect x="808.40" y="386.8" width="8.7" height="0.9" fill="#00b4b4"/>
<rect x="818.05" y="386.0" width="8.7" height="1.7" fill="#00ffff"/>
<rect x="827.70" y="383.5" width="8.7" height="4.2" fill="#00ffff"/>
<rect x="837.35" y="385.2" width="8.7" height="2.5" fill="#00ffff"/>
<rect x="856.65" y="387.7" width="8.7" height="1.3" fill="#00ffff"/>
<rect x="866.30" y="387.7" width="8.7" height="1.0" fill="#00b4b4"/>
<rect x="875.95" y="387.7" width="8.7" height="1.3" fill="#00ffff"/>
<rect x="885.60" y="387.7" width="8.7" height="9.9" fill="#00ffff"/>
<rect x="895.25" y="387.7" width="8.7" height="14.6" fill="#00ffff"/>
<rect x="904.90" y="387.7" width="8.7" height="13.9" fill="#00ffff"/>
<rect x="914.55" y="387.7" width="8.7" height="12.4" fill="#00ffff"/>
<polyline points="6.0,392.7 15.6,391.6 31.3,390.4 47.0,389.8 54.8,389.3 62.6,388.2 78.2,386.2 94.0,383.0 109.5,381.2 122.0,379.1 140.0,379.2 155.6,379.5 171.3,377.9 187.0,376.7 202.6,375.1 218.2,374.0 233.9,372.9 249.5,372.9 257.4,372.4 268.3,370.4 280.8,366.4 295.6,361.2 311.3,356.5 327.0,352.2 342.6,347.1 358.2,341.9 373.9,338.8 389.5,336.1 405.2,334.1 420.8,331.9 431.0,330.6 443.5,329.6 456.0,329.6 467.0,330.6 482.6,334.6 498.2,339.3 513.9,343.5 529.5,349.1 545.2,355.4 556.1,361.9 567.1,370.6 575.5,378.0 586.2,388.0 598.9,394.7 609.9,401.0 620.8,406.2 629.4,408.5 638.8,412.4 648.2,414.5 660.7,415.6 671.6,414.8 685.7,412.9 698.2,411.3 709.2,410.1 721.7,406.9 737.4,404.6 749.9,401.0 760.8,397.9 770.2,396.6 785.6,394.4 801.3,393.0 817.0,392.6 832.6,391.5 848.2,391.8 863.9,392.1 879.5,392.6 889.0,394.4 899.9,398.0 910.8,401.6 918.7,403.5" fill="none" stroke="#00a800" stroke-width="0.85" stroke-dasharray="2.4 0.8 0.8 0.8"/>
<polyline points="6.0,385.7 15.6,385.1 31.3,385.1 40.7,386.9 50.0,388.8 59.5,385.7 68.9,381.9 78.2,379.4 87.6,377.1 97.0,376.0 106.4,374.4 115.8,373.3 122.0,373.3 128.3,374.4 136.2,377.6 148.7,378.3 155.6,379.7 163.5,378.7 174.4,374.8 187.0,373.2 202.6,369.8 215.1,369.8 223.0,371.3 237.0,371.3 246.4,372.1 255.8,371.6 263.6,367.0 273.0,359.1 280.8,352.5 291.0,347.1 305.0,344.4 320.7,342.9 330.0,337.7 339.5,332.5 350.4,329.9 359.8,328.8 367.6,329.9 378.6,329.9 388.0,332.2 399.0,329.4 414.6,327.2 425.5,325.2 434.0,324.4 443.5,326.0 456.0,329.1 465.4,336.1 474.8,342.4 482.6,344.4 493.6,348.6 504.5,353.0 513.9,354.1 521.7,360.4 532.7,365.9 542.0,370.6 549.9,380.7 558.2,391.6 566.1,404.1 572.3,411.2 580.2,415.9 589.5,419.8 598.9,422.6 608.3,424.2 620.0,423.8 629.4,424.5 638.8,428.5 648.2,425.7 659.1,420.3 668.5,415.6 677.9,409.3 687.3,406.5 701.4,404.3 713.9,402.3 729.5,397.1 745.2,389.7 754.6,387.9 762.4,389.4 793.5,389.4 801.3,391.3 812.3,392.9 823.2,390.7 832.6,388.3 842.0,389.1 851.4,391.8 860.8,393.3 870.2,392.6 879.5,393.3 884.2,398.8 892.1,407.4 899.9,412.9 909.3,415.3 918.7,416.3" fill="none" stroke="#bc0000" stroke-width="0.95" stroke-linejoin="round"/>
</g>
<rect x="7.45" y="522.1" width="8.7" height="12.5" fill="#00ffff"/>
<rect x="17.10" y="515.9" width="8.7" height="18.7" fill="#00ffff"/>
<rect x="26.75" y="518.8" width="8.7" height="15.8" fill="#00ffff"/>
<rect x="36.40" y="516.3" width="8.7" height="18.3" fill="#00ffff"/>
<rect x="46.05" y="511.8" width="8.7" height="22.8" fill="#00ffff"/>
<rect x="55.70" y="511.8" width="8.7" height="22.8" fill="#00ffff"/>
<rect x="65.35" y="517.8" width="8.7" height="16.8" fill="#00ffff"/>
<rect x="75.00" y="526.4" width="8.7" height="8.2" fill="#00ffff"/>
<rect x="84.65" y="522.1" width="8.7" height="12.5" fill="#00ffff"/>
<rect x="94.30" y="520.2" width="8.7" height="14.4" fill="#00ffff"/>
<rect x="103.95" y="525.1" width="8.7" height="9.5" fill="#00ffff"/>
<rect x="113.60" y="520.2" width="8.7" height="14.4" fill="#00ffff"/>
<rect x="123.25" y="520.2" width="8.7" height="14.4" fill="#00ffff"/>
<rect x="132.90" y="517.2" width="8.7" height="17.4" fill="#00ffff"/>
<rect x="142.55" y="517.8" width="8.7" height="16.8" fill="#00ffff"/>
<rect x="152.20" y="521.2" width="8.7" height="13.4" fill="#00ffff"/>
<rect x="161.85" y="510.0" width="8.7" height="24.6" fill="#00ffff"/>
<rect x="171.50" y="510.0" width="8.7" height="24.6" fill="#00ffff"/>
<rect x="181.15" y="512.3" width="8.7" height="22.3" fill="#00ffff"/>
<rect x="190.80" y="518.7" width="8.7" height="15.9" fill="#00ffff"/>
<rect x="200.45" y="513.0" width="8.7" height="21.6" fill="#00ffff"/>
<rect x="210.10" y="515.5" width="8.7" height="19.1" fill="#00ffff"/>
<rect x="219.75" y="516.3" width="8.7" height="18.3" fill="#00ffff"/>
<rect x="229.40" y="519.3" width="8.7" height="15.3" fill="#00ffff"/>
<rect x="239.05" y="521.8" width="8.7" height="12.8" fill="#00ffff"/>
<rect x="248.70" y="514.6" width="8.7" height="20.0" fill="#00ffff"/>
<rect x="258.35" y="510.8" width="8.7" height="23.8" fill="#00ffff"/>
<rect x="268.00" y="506.9" width="8.7" height="27.7" fill="#00ffff"/>
<rect x="277.65" y="503.8" width="8.7" height="30.8" fill="#00ffff"/>
<rect x="287.30" y="515.5" width="8.7" height="19.1" fill="#00ffff"/>
<rect x="296.95" y="506.1" width="8.7" height="28.5" fill="#00ffff"/>
<rect x="306.60" y="505.2" width="8.7" height="29.4" fill="#00ffff"/>
<rect x="316.25" y="516.3" width="8.7" height="18.3" fill="#00ffff"/>
<rect x="325.90" y="506.1" width="8.7" height="28.5" fill="#00ffff"/>
<rect x="335.55" y="505.2" width="8.7" height="29.4" fill="#00ffff"/>
<rect x="345.20" y="519.4" width="8.7" height="15.2" fill="#00ffff"/>
<rect x="354.85" y="495.9" width="8.7" height="38.7" fill="#00ffff"/>
<rect x="364.50" y="520.2" width="8.7" height="14.4" fill="#00ffff"/>
<rect x="374.15" y="514.7" width="8.7" height="19.9" fill="#00ffff"/>
<rect x="383.80" y="521.0" width="8.7" height="13.6" fill="#00ffff"/>
<rect x="393.45" y="508.3" width="8.7" height="26.3" fill="#00ffff"/>
<rect x="403.10" y="515.5" width="8.7" height="19.1" fill="#00ffff"/>
<rect x="412.75" y="516.3" width="8.7" height="18.3" fill="#00ffff"/>
<rect x="422.40" y="513.0" width="8.7" height="21.6" fill="#00ffff"/>
<rect x="432.05" y="522.4" width="8.7" height="12.2" fill="#00ffff"/>
<rect x="441.70" y="513.0" width="8.7" height="21.6" fill="#00ffff"/>
<rect x="451.35" y="521.8" width="8.7" height="12.8" fill="#00ffff"/>
<rect x="461.00" y="499.7" width="8.7" height="34.9" fill="#00ffff"/>
<rect x="470.65" y="516.3" width="8.7" height="18.3" fill="#00ffff"/>
<rect x="480.30" y="518.6" width="8.7" height="16.0" fill="#00ffff"/>
<rect x="489.95" y="521.8" width="8.7" height="12.8" fill="#00ffff"/>
<rect x="499.60" y="523.3" width="8.7" height="11.3" fill="#00ffff"/>
<rect x="509.25" y="513.0" width="8.7" height="21.6" fill="#00ffff"/>
<rect x="518.90" y="509.1" width="8.7" height="25.5" fill="#00ffff"/>
<rect x="528.55" y="503.8" width="8.7" height="30.8" fill="#00ffff"/>
<rect x="538.20" y="520.2" width="8.7" height="14.4" fill="#00ffff"/>
<rect x="547.85" y="509.1" width="8.7" height="25.5" fill="#00ffff"/>
<rect x="557.50" y="485.8" width="8.7" height="48.8" fill="#00ffff"/>
<rect x="567.15" y="500.5" width="8.7" height="34.1" fill="#00ffff"/>
<rect x="576.80" y="506.1" width="8.7" height="28.5" fill="#00ffff"/>
<rect x="586.45" y="514.7" width="8.7" height="19.9" fill="#00ffff"/>
<rect x="596.10" y="513.0" width="8.7" height="21.6" fill="#00ffff"/>
<rect x="605.75" y="520.2" width="8.7" height="14.4" fill="#00ffff"/>
<rect x="615.40" y="513.8" width="8.7" height="20.8" fill="#00ffff"/>
<rect x="625.05" y="516.3" width="8.7" height="18.3" fill="#00ffff"/>
<rect x="634.70" y="500.5" width="8.7" height="34.1" fill="#00ffff"/>
<rect x="644.35" y="510.8" width="8.7" height="23.8" fill="#00ffff"/>
<rect x="654.00" y="515.5" width="8.7" height="19.1" fill="#00ffff"/>
<rect x="663.65" y="512.2" width="8.7" height="22.4" fill="#00ffff"/>
<rect x="673.30" y="521.0" width="8.7" height="13.6" fill="#00ffff"/>
<rect x="682.95" y="508.3" width="8.7" height="26.3" fill="#00ffff"/>
<rect x="692.60" y="514.7" width="8.7" height="19.9" fill="#00ffff"/>
<rect x="702.25" y="506.9" width="8.7" height="27.7" fill="#00ffff"/>
<rect x="711.90" y="518.6" width="8.7" height="16.0" fill="#00ffff"/>
<rect x="721.55" y="516.3" width="8.7" height="18.3" fill="#00ffff"/>
<rect x="731.20" y="514.7" width="8.7" height="19.9" fill="#00ffff"/>
<rect x="740.85" y="514.7" width="8.7" height="19.9" fill="#00ffff"/>
<rect x="750.50" y="520.2" width="8.7" height="14.4" fill="#00ffff"/>
<rect x="760.15" y="514.7" width="8.7" height="19.9" fill="#00ffff"/>
<rect x="769.80" y="512.2" width="8.7" height="22.4" fill="#00ffff"/>
<rect x="779.45" y="519.4" width="8.7" height="15.2" fill="#00ffff"/>
<rect x="789.10" y="520.2" width="8.7" height="14.4" fill="#00ffff"/>
<rect x="798.75" y="523.3" width="8.7" height="11.3" fill="#00ffff"/>
<rect x="808.40" y="522.4" width="8.7" height="12.2" fill="#00ffff"/>
<rect x="818.05" y="519.4" width="8.7" height="15.2" fill="#00ffff"/>
<rect x="827.70" y="513.8" width="8.7" height="20.8" fill="#00ffff"/>
<rect x="837.35" y="518.6" width="8.7" height="16.0" fill="#00ffff"/>
<rect x="847.00" y="522.4" width="8.7" height="12.2" fill="#00ffff"/>
<rect x="856.65" y="524.9" width="8.7" height="9.7" fill="#00ffff"/>
<rect x="866.30" y="517.1" width="8.7" height="17.5" fill="#00ffff"/>
<rect x="875.95" y="522.4" width="8.7" height="12.2" fill="#00ffff"/>
<rect x="885.60" y="495.9" width="8.7" height="38.7" fill="#00ffff"/>
<rect x="895.25" y="516.3" width="8.7" height="18.3" fill="#00ffff"/>
<rect x="904.90" y="517.1" width="8.7" height="17.5" fill="#00ffff"/>
<rect x="914.55" y="525.7" width="8.7" height="8.9" fill="#00ffff"/>
<g clip-path="url(#cpA)">
<text x="972.3" y="57.0" font-family="IPAGothic,&quot;Liberation Mono&quot;,monospace" font-size="9.5" fill="#bebebe">6,7<tspan font-family="&quot;Noto Sans Mono CJK JP&quot;,IPAGothic,monospace" font-weight="300">00</tspan></text>
<text x="972.3" y="84.5" font-family="IPAGothic,&quot;Liberation Mono&quot;,monospace" font-size="9.5" fill="#bebebe">6,6<tspan font-family="&quot;Noto Sans Mono CJK JP&quot;,IPAGothic,monospace" font-weight="300">00</tspan></text>
<text x="972.3" y="111.2" font-family="IPAGothic,&quot;Liberation Mono&quot;,monospace" font-size="9.5" fill="#bebebe">6,5<tspan font-family="&quot;Noto Sans Mono CJK JP&quot;,IPAGothic,monospace" font-weight="300">00</tspan></text>
<text x="972.3" y="138.1" font-family="IPAGothic,&quot;Liberation Mono&quot;,monospace" font-size="9.5" fill="#bebebe">6,4<tspan font-family="&quot;Noto Sans Mono CJK JP&quot;,IPAGothic,monospace" font-weight="300">00</tspan></text>
<text x="972.3" y="165.2" font-family="IPAGothic,&quot;Liberation Mono&quot;,monospace" font-size="9.5" fill="#bebebe">6,3<tspan font-family="&quot;Noto Sans Mono CJK JP&quot;,IPAGothic,monospace" font-weight="300">00</tspan></text>
<text x="972.3" y="218.8" font-family="IPAGothic,&quot;Liberation Mono&quot;,monospace" font-size="9.5" fill="#bebebe">6,1<tspan font-family="&quot;Noto Sans Mono CJK JP&quot;,IPAGothic,monospace" font-weight="300">00</tspan></text>
<text x="972.3" y="245.6" font-family="IPAGothic,&quot;Liberation Mono&quot;,monospace" font-size="9.5" fill="#bebebe">6,<tspan font-family="&quot;Noto Sans Mono CJK JP&quot;,IPAGothic,monospace" font-weight="300">000</tspan></text>
<text x="972.3" y="272.6" font-family="IPAGothic,&quot;Liberation Mono&quot;,monospace" font-size="9.5" fill="#bebebe">5,9<tspan font-family="&quot;Noto Sans Mono CJK JP&quot;,IPAGothic,monospace" font-weight="300">00</tspan></text>
<text x="1015.6" y="293.4" text-anchor="end" font-family="IPAGothic,&quot;Liberation Mono&quot;,monospace" font-size="9.5" fill="#bebebe">15<tspan font-family="&quot;Noto Sans Mono CJK JP&quot;,IPAGothic,monospace" font-weight="300">0</tspan>.<tspan font-family="&quot;Noto Sans Mono CJK JP&quot;,IPAGothic,monospace" font-weight="300">0000</tspan></text>
<text x="1015.6" y="324.1" text-anchor="end" font-family="IPAGothic,&quot;Liberation Mono&quot;,monospace" font-size="9.5" fill="#bebebe">1<tspan font-family="&quot;Noto Sans Mono CJK JP&quot;,IPAGothic,monospace" font-weight="300">00</tspan>.<tspan font-family="&quot;Noto Sans Mono CJK JP&quot;,IPAGothic,monospace" font-weight="300">0000</tspan></text>
<text x="1015.6" y="354.6" text-anchor="end" font-family="IPAGothic,&quot;Liberation Mono&quot;,monospace" font-size="9.5" fill="#bebebe">5<tspan font-family="&quot;Noto Sans Mono CJK JP&quot;,IPAGothic,monospace" font-weight="300">0</tspan>.<tspan font-family="&quot;Noto Sans Mono CJK JP&quot;,IPAGothic,monospace" font-weight="300">0000</tspan></text>
<text x="1015.6" y="385.9" text-anchor="end" font-family="IPAGothic,&quot;Liberation Mono&quot;,monospace" font-size="9.5" fill="#bebebe"><tspan font-family="&quot;Noto Sans Mono CJK JP&quot;,IPAGothic,monospace" font-weight="300">0</tspan>.<tspan font-family="&quot;Noto Sans Mono CJK JP&quot;,IPAGothic,monospace" font-weight="300">0000</tspan></text>
<text x="1015.6" y="416.6" text-anchor="end" font-family="IPAGothic,&quot;Liberation Mono&quot;,monospace" font-size="9.5" fill="#bebebe">-5<tspan font-family="&quot;Noto Sans Mono CJK JP&quot;,IPAGothic,monospace" font-weight="300">0</tspan>.<tspan font-family="&quot;Noto Sans Mono CJK JP&quot;,IPAGothic,monospace" font-weight="300">0000</tspan></text>
<text x="1015.6" y="447.1" text-anchor="end" font-family="IPAGothic,&quot;Liberation Mono&quot;,monospace" font-size="9.5" fill="#bebebe">-1<tspan font-family="&quot;Noto Sans Mono CJK JP&quot;,IPAGothic,monospace" font-weight="300">00</tspan>.<tspan font-family="&quot;Noto Sans Mono CJK JP&quot;,IPAGothic,monospace" font-weight="300">0000</tspan></text>
<text x="1001.4" y="469.4" text-anchor="end" font-family="IPAGothic,&quot;Liberation Mono&quot;,monospace" font-size="9.5" fill="#bebebe">75<tspan font-family="&quot;Noto Sans Mono CJK JP&quot;,IPAGothic,monospace" font-weight="300">000</tspan></text>
<text x="1001.4" y="490.4" text-anchor="end" font-family="IPAGothic,&quot;Liberation Mono&quot;,monospace" font-size="9.5" fill="#bebebe">5<tspan font-family="&quot;Noto Sans Mono CJK JP&quot;,IPAGothic,monospace" font-weight="300">0000</tspan></text>
<text x="1001.4" y="511.5" text-anchor="end" font-family="IPAGothic,&quot;Liberation Mono&quot;,monospace" font-size="9.5" fill="#bebebe">25<tspan font-family="&quot;Noto Sans Mono CJK JP&quot;,IPAGothic,monospace" font-weight="300">000</tspan></text>
<text x="1001.4" y="532.6" text-anchor="end" font-family="IPAGothic,&quot;Liberation Mono&quot;,monospace" font-size="9.5" fill="#bebebe"><tspan font-family="&quot;Noto Sans Mono CJK JP&quot;,IPAGothic,monospace" font-weight="300">0</tspan></text>
</g>
<rect x="972.4" y="180.8" width="46.6" height="16.2" fill="#d6d6d6"/>
<text x="1007.2" y="192.3" text-anchor="end" font-family="IPAGothic,&quot;Liberation Mono&quot;,monospace" font-size="9.5" font-weight="bold" fill="#000" stroke="#000" stroke-width="0.35" textLength="24.2" lengthAdjust="spacing">6,22<tspan font-family="&quot;Noto Sans Mono CJK JP&quot;,IPAGothic,monospace" font-weight="bold">0</tspan></text>
<text x="55.1" y="277.4" font-family="IPAGothic,&quot;Liberation Mono&quot;,monospace" font-size="9.5" fill="#bebebe"><tspan font-family="&quot;Noto Sans Mono CJK JP&quot;,IPAGothic,monospace" font-weight="300">0</tspan>4</text>
<text x="257.7" y="277.4" font-family="IPAGothic,&quot;Liberation Mono&quot;,monospace" font-size="9.5" fill="#bebebe"><tspan font-family="&quot;Noto Sans Mono CJK JP&quot;,IPAGothic,monospace" font-weight="300">0</tspan>5</text>
<text x="431.4" y="277.4" font-family="IPAGothic,&quot;Liberation Mono&quot;,monospace" font-size="9.5" fill="#bebebe"><tspan font-family="&quot;Noto Sans Mono CJK JP&quot;,IPAGothic,monospace" font-weight="300">0</tspan>6</text>
<text x="643.7" y="277.4" font-family="IPAGothic,&quot;Liberation Mono&quot;,monospace" font-size="9.5" fill="#bebebe"><tspan font-family="&quot;Noto Sans Mono CJK JP&quot;,IPAGothic,monospace" font-weight="300">0</tspan>7</text>
<text x="836.7" y="277.4" font-family="IPAGothic,&quot;Liberation Mono&quot;,monospace" font-size="9.5" fill="#bebebe"><tspan font-family="&quot;Noto Sans Mono CJK JP&quot;,IPAGothic,monospace" font-weight="300">0</tspan>8</text>
<text x="5.9" y="46.1" font-family="IPAGothic,&quot;Liberation Mono&quot;,monospace" font-size="9.65" fill="#fff" xml:space="preserve">日付:2<tspan font-family="&quot;Noto Sans Mono CJK JP&quot;,IPAGothic,monospace" font-weight="300">0</tspan>21/<tspan font-family="&quot;Noto Sans Mono CJK JP&quot;,IPAGothic,monospace" font-weight="300">0</tspan>8/13 始値:6,227 高値:6,238 安値:6,189 終値:6,22<tspan font-family="&quot;Noto Sans Mono CJK JP&quot;,IPAGothic,monospace" font-weight="300">0</tspan></text>
<rect x="6.8" y="48.9" width="126.2" height="37.8" fill="#fff" stroke="#555" stroke-width="0.6"/>
<text x="7.6" y="56.8" font-family="IPAGothic,&quot;Liberation Mono&quot;,monospace" font-size="8.62" fill="#000" xml:space="preserve">移動平均(金 先限連続)</text>
<path d="M113.6 57.3 l4.3 -7.4 l4.3 7.4 z" fill="none" stroke="#444" stroke-width="0.8"/>
<path d="M123.0 50.3 l6.4 7 m0 -7 l-6.4 7" fill="none" stroke="#444" stroke-width="0.8"/>
<line x1="7.7" y1="62.7" x2="15.1" y2="62.7" stroke="#ffff40" stroke-width="1.1"/>
<text x="15.4" y="66.1" font-family="IPAGothic,&quot;Liberation Mono&quot;,monospace" font-size="8.62" fill="#000" xml:space="preserve">短期線(9)(<tspan font-family="&quot;Noto Sans Mono CJK JP&quot;,IPAGothic,monospace" font-weight="300">0</tspan>)(SMA)(C):----</text>
<line x1="7.7" y1="72.1" x2="15.1" y2="72.1" stroke="#40ffff" stroke-width="1.1"/>
<text x="15.4" y="75.5" font-family="IPAGothic,&quot;Liberation Mono&quot;,monospace" font-size="8.62" fill="#000" xml:space="preserve">中期線(26)(<tspan font-family="&quot;Noto Sans Mono CJK JP&quot;,IPAGothic,monospace" font-weight="300">0</tspan>)(SMA)(C):----</text>
<line x1="7.7" y1="81.4" x2="15.1" y2="81.4" stroke="#40ff40" stroke-width="1.1"/>
<text x="15.4" y="84.8" font-family="IPAGothic,&quot;Liberation Mono&quot;,monospace" font-size="8.62" fill="#000" xml:space="preserve">長期線(52)(<tspan font-family="&quot;Noto Sans Mono CJK JP&quot;,IPAGothic,monospace" font-weight="300">0</tspan>)(SMA)(C):----</text>
<rect x="6.6" y="285.6" width="96.7" height="38.5" fill="#fff" stroke="#555" stroke-width="0.6"/>
<text x="7.4" y="293.5" font-family="IPAGothic,&quot;Liberation Mono&quot;,monospace" font-size="8.62" fill="#000" xml:space="preserve">MACD(金 先限連続)</text>
<path d="M87.4 294.0 l4.3 -7.4 l4.3 7.4 z" fill="none" stroke="#444" stroke-width="0.8"/>
<path d="M96.8 287.0 l6.4 7 m0 -7 l-6.4 7" fill="none" stroke="#444" stroke-width="0.8"/>
<line x1="7.5" y1="299.5" x2="14.9" y2="299.5" stroke="#ff5a5a" stroke-width="1.1"/>
<text x="15.2" y="302.9" font-family="IPAGothic,&quot;Liberation Mono&quot;,monospace" font-size="8.62" fill="#000" xml:space="preserve">MACD(1<tspan font-family="&quot;Noto Sans Mono CJK JP&quot;,IPAGothic,monospace" font-weight="300">0</tspan>)(2<tspan font-family="&quot;Noto Sans Mono CJK JP&quot;,IPAGothic,monospace" font-weight="300">0</tspan>)(C):----</text>
<line x1="7.5" y1="308.8" x2="14.9" y2="308.8" stroke="#30e030" stroke-width="1" stroke-dasharray="2.2 0.9 0.9 0.9"/>
<text x="15.2" y="312.2" font-family="IPAGothic,&quot;Liberation Mono&quot;,monospace" font-size="8.62" fill="#000" xml:space="preserve">シグナル(1<tspan font-family="&quot;Noto Sans Mono CJK JP&quot;,IPAGothic,monospace" font-weight="300">0</tspan>):----</text>
<rect x="7.5" y="317.4" width="7.4" height="3.8" fill="#00ffff"/>
<text x="15.2" y="321.6" font-family="IPAGothic,&quot;Liberation Mono&quot;,monospace" font-size="8.62" fill="#000" xml:space="preserve">MACDオシレータ:----</text>
<rect x="6.6" y="461.6" width="148.6" height="38.0" fill="#fff" stroke="#555" stroke-width="0.6"/>
<text x="7.4" y="469.5" font-family="IPAGothic,&quot;Liberation Mono&quot;,monospace" font-size="8.62" fill="#000" xml:space="preserve">出来高(金 先限連続)</text>
<path d="M139.6 470.0 l4.3 -7.4 l4.3 7.4 z" fill="none" stroke="#444" stroke-width="0.8"/>
<path d="M149.0 463.0 l6.4 7 m0 -7 l-6.4 7" fill="none" stroke="#444" stroke-width="0.8"/>
<rect x="7.5" y="474.7" width="7.4" height="3.8" fill="#00ffff"/>
<text x="15.2" y="478.9" font-family="IPAGothic,&quot;Liberation Mono&quot;,monospace" font-size="8.62" fill="#000" xml:space="preserve">出来高:----</text>
<line x1="7.5" y1="484.8" x2="14.9" y2="484.8" stroke="#40ff40" stroke-width="1.1"/>
<text x="15.2" y="488.2" font-family="IPAGothic,&quot;Liberation Mono&quot;,monospace" font-size="8.62" fill="#000" xml:space="preserve">出来高移動平均(9)(SMA):----</text>
<line x1="7.5" y1="494.2" x2="14.9" y2="494.2" stroke="#ff9cff" stroke-width="1" stroke-dasharray="2.2 0.9 0.9 0.9"/>
<text x="15.2" y="497.6" font-family="IPAGothic,&quot;Liberation Mono&quot;,monospace" font-size="8.62" fill="#000" xml:space="preserve">Slow出来高移動平均(26)(SMA):----</text>
<g>
<rect x="8.2" y="4.2" width="10.8" height="10.8" fill="#f4f4f4" stroke="#b5b5b5" stroke-width="0.6"/>
<polyline points="9,12.6 11.2,9.6 12.6,11 14.8,6.4 16.3,9 18,6.8" fill="none" stroke="#e83030" stroke-width="1.1"/>
<polyline points="9,13.4 11.2,10.6 12.6,12 14.8,7.8 16.3,10.4 18,8.4" fill="none" stroke="#4a6ae0" stroke-width="0.7"/>
<text x="23.2" y="13.4" font-family="&quot;Liberation Sans&quot;,IPAPGothic,&quot;Noto Sans CJK JP&quot;,sans-serif" font-size="9.8" fill="#000">金[先限連続]</text>
</g>
<rect x="974.2" y="3.8" width="12.8" height="12.4" rx="2" fill="url(#bg)" stroke="#9c9c9c" stroke-width="0.8"/>
<rect x="978.5" y="11.4" width="4.2" height="1.5" fill="#5a5a5a"/>
<rect x="990.4" y="3.8" width="12.8" height="12.4" rx="2" fill="url(#bg)" stroke="#9c9c9c" stroke-width="0.8"/>
<rect x="994.0" y="6.9" width="5.6" height="5.4" fill="none" stroke="#5a5a5a" stroke-width="1.2"/>
<rect x="1006.2" y="3.8" width="12.8" height="12.4" rx="2" fill="url(#bg)" stroke="#9c9c9c" stroke-width="0.8"/>
<path d="M1009.6 6.8 l6 6 m0 -6 l-6 6" stroke="#5a5a5a" stroke-width="1.2" fill="none"/>
<g fill="none" stroke="#7c7c7c" stroke-width="1.3"><rect x="926.3" y="9.3" width="5.2" height="3.4" rx="1.6" transform="rotate(-38 929 11)"/><rect x="930" y="6.6" width="5.2" height="3.4" rx="1.6" transform="rotate(-38 932.6 8.3)"/><path d="M926 14.6 L935.6 4.8" stroke-width="0.9"/></g>
<g fill="none" stroke="#7c7c7c"><path d="M950.2 7.6 A4.4 4.4 0 1 0 950.6 12.2" stroke-width="1.7"/><path d="M948.2 4.6 l3.2 0 l0 3.4 z" fill="#7c7c7c" stroke="none"/><rect x="947.2" y="10.4" width="4.4" height="2.4" fill="#f0f0f0" stroke-width="0.8"/></g>
<g fill="#ececec" stroke="#7c7c7c" stroke-width="1"><rect x="957.4" y="5" width="7.4" height="9"/><rect x="960.2" y="7.6" width="7.2" height="5.4"/><path d="M961.6 14.4 h4.4" fill="none"/></g>
<text x="8.4" y="30.6" font-family="&quot;Liberation Sans&quot;,IPAPGothic,&quot;Noto Sans CJK JP&quot;,sans-serif" font-size="9.7" fill="#1a1a1a" xml:space="preserve">金</text>
<text x="26.8" y="30.6" font-family="&quot;Liberation Sans&quot;,IPAPGothic,&quot;Noto Sans CJK JP&quot;,sans-serif" font-size="9.7" fill="#1a1a1a">先限連続</text>
<text x="72.8" y="30.6" font-family="&quot;Liberation Sans&quot;,IPAPGothic,&quot;Noto Sans CJK JP&quot;,sans-serif" font-size="9.7" fill="#1a1a1a">日足</text>
<path d="M95.6 25.6 h4.6 l-2.3 2.8 z" fill="#222"/>
<rect x="104.6" y="20.8" width="35.2" height="12.8" fill="#fff"/>
<text x="106.4" y="30" font-family="&quot;Liberation Sans&quot;,IPAPGothic,&quot;Noto Sans CJK JP&quot;,sans-serif" font-size="10" fill="#222" textLength="12.8" lengthAdjust="spacingAndGlyphs">100</text>
<rect x="128.2" y="21.6" width="10.8" height="11.2" fill="#e2e2e2" stroke="#c4c4c4" stroke-width="0.5"/>
<path d="M131.4 26 h4.4 l-2.2 -2.8 z M131.4 28.4 h4.4 l-2.2 2.8 z" fill="#333"/>
<rect x="143.8" y="21.6" width="0.8" height="11.6" fill="#b4b8c0"/><rect x="144.6" y="21.6" width="0.8" height="11.6" fill="#eef0f4"/>
<rect x="220.1" y="21.6" width="0.8" height="11.6" fill="#b4b8c0"/><rect x="220.9" y="21.6" width="0.8" height="11.6" fill="#eef0f4"/>
<rect x="261.5" y="21.6" width="0.8" height="11.6" fill="#b4b8c0"/><rect x="262.3" y="21.6" width="0.8" height="11.6" fill="#eef0f4"/>
<rect x="320.2" y="21.6" width="0.8" height="11.6" fill="#b4b8c0"/><rect x="321.0" y="21.6" width="0.8" height="11.6" fill="#eef0f4"/>
<rect x="456.5" y="21.6" width="0.8" height="11.6" fill="#b4b8c0"/><rect x="457.3" y="21.6" width="0.8" height="11.6" fill="#eef0f4"/>
<rect x="146.3" y="20.3" width="13.2" height="13.2" fill="#a9adb6" stroke="#8e929a" stroke-width="0.6"/>
<rect x="223.2" y="20.3" width="13.2" height="13.2" fill="#bfc3cb" stroke="#9a9ea6" stroke-width="0.6"/><rect x="225" y="22" width="10.6" height="10.6" fill="#d8dbe2"/>
<path d="M148.6 22.4 l0.7 9 l2.5 -2.2 l2 3.4 l1.7 -1 l-2 -3.3 l3.3 -0.7 z" fill="#8e6ee0" stroke="#f6f2ff" stroke-width="0.8" stroke-linejoin="round"/>
<path d="M166.4 27.6 c-1.5 -1.6 -0.5 -2.9 0.9 -1.9 l0.9 0.8 l-0.3 -3.4 c0 -1.1 1.5 -1.2 1.7 -0.1 l0.2 -0.9 c0.3 -1 1.7 -0.8 1.7 0.2 l0.1 0.4 c0.5 -0.9 1.7 -0.5 1.7 0.4 l0 0.7 c0.6 -0.7 1.6 -0.2 1.5 0.7 l-0.3 3.9 c-0.2 1.7 -0.8 2.9 -1.5 3.8 l-4.3 0 c-0.9 -1.3 -1.5 -2.9 -2.3 -4.6 z" fill="#fdf0dc" stroke="#dc8c2a" stroke-width="0.95" stroke-linejoin="round"/>
<path d="M169.7 23.2 v3 M171.4 22.8 v3.2 M173.2 23.4 v2.8" stroke="#dc8c2a" stroke-width="0.6" fill="none"/>
<g transform="rotate(42 189 27)"><rect x="187.6" y="19.6" width="2.9" height="10.4" rx="0.8" fill="#f6bc62" stroke="#dc962e" stroke-width="0.55"/><path d="M188.6 20.4 v9" stroke="#fde6bc" stroke-width="0.7"/><path d="M187.6 30 l1.45 3.6 l1.45 -3.6 z" fill="#f8dcae" stroke="#b87820" stroke-width="0.5"/></g>
<g transform="rotate(42 207 27)"><rect x="205.3" y="19.4" width="3.4" height="9.6" rx="1" fill="#5a96f0" stroke="#2c5cc0" stroke-width="0.55"/><path d="M206.4 20.4 v8" stroke="#a8c8fa" stroke-width="0.7"/><path d="M205.6 29 l1.4 3.8 l1.4 -3.8 z" fill="#86b4f4" stroke="#2c5cc0" stroke-width="0.5"/></g>
<path d="M206.6 31.2 l3 -3.4 l3 0.8 l0.2 3 z" fill="#2c4ea8"/>
<path d="M224 24.6 h11.6 M227.6 21 v11.8" stroke="#5a40b0" stroke-width="0.8" fill="none"/>
<path d="M228.8 25.8 l5.2 0.6 l-1.5 1.4 l2.6 2.8 l-1.3 1.2 l-2.6 -2.8 l-1.6 1.5 z" fill="#8a40c0"/>
<circle cx="247.5" cy="26.9" r="5.6" fill="#48aee8" stroke="#86cdf4" stroke-width="0.8"/>
<path d="M244.6 28.4 l2.9 -3 l2.9 3" fill="none" stroke="#fff" stroke-width="1.5"/>
<rect x="265.3" y="21.8" width="10.4" height="10.8" fill="#fafafa" stroke="#3a74c4" stroke-width="1"/>
<rect x="265.3" y="21.6" width="10.4" height="1.5" fill="#3a74c4"/>
<path d="M267.4 24 v8 M270 27.6 v4.6 M272.6 27.6 v4.6" stroke="#b8c4d8" stroke-width="0.7" fill="none"/>
<path d="M269.8 27.6 c0 -2.4 1.6 -3 3.2 -3 l0 -1.4 l2.4 2.2 l-2.4 2.2 l0 -1.4 c-1.2 0 -1.8 0.2 -1.9 1.6 z" fill="#ec3434"/>
<rect x="283.2" y="21.8" width="10.8" height="10.8" fill="#f2f4f8"/>
<rect x="283.2" y="21.7" width="10.8" height="1.1" fill="#3a74c4"/>
<rect x="283.2" y="24.9" width="10.8" height="1.1" fill="#3a74c4"/>
<rect x="283.2" y="28.3" width="10.8" height="1.1" fill="#3a74c4"/>
<rect x="283.2" y="31.7" width="10.8" height="1.1" fill="#3a74c4"/>
<path d="M284.6 24 h2 M287.8 24 h2 M291 24 h2 M284.6 30.6 h2 M287.8 30.6 h2 M291 30.6 h2 M284.6 27.2 h2 M287.8 27.2 h2 M291 27.2 h2" stroke="#8c94a4" stroke-width="0.8"/>
<rect x="301.3" y="21.8" width="10.6" height="10.2" fill="#f2f4f8"/>
<rect x="301.3" y="21.7" width="10.6" height="1" fill="#3a74c4"/>
<rect x="301.3" y="24.9" width="10.6" height="1" fill="#3a74c4"/>
<rect x="301.3" y="28.1" width="10.6" height="1" fill="#3a74c4"/>
<rect x="301.3" y="31.3" width="10.6" height="1" fill="#3a74c4"/>
<rect x="301.2" y="21.8" width="0.9" height="10.2" fill="#3a74c4"/>
<rect x="304.7" y="21.8" width="0.9" height="10.2" fill="#3a74c4"/>
<rect x="307.9" y="21.8" width="0.9" height="10.2" fill="#3a74c4"/>
<rect x="311.1" y="21.8" width="0.9" height="10.2" fill="#3a74c4"/>
<path d="M302.6 27 h8.6" stroke="#e05a6a" stroke-width="0.7"/>
<rect x="325.0" y="21.4" width="10.8" height="10.8" fill="#dfe2e8"/>
<rect x="325.0" y="32" width="10.8" height="0.9" fill="#9a9ea8"/>
<rect x="326.00" y="26.6" width="1.8" height="5.2" fill="#2a8af8"/>
<rect x="328.45" y="22.6" width="1.8" height="9.2" fill="#2a8af8"/>
<rect x="330.90" y="24.6" width="1.8" height="7.2" fill="#2a8af8"/>
<rect x="333.35" y="27.4" width="1.8" height="4.4" fill="#2a8af8"/>
<path d="M338.2 25.6 h4.2 l-2.1 2.6 z" fill="#222"/>
<rect x="347.2" y="21.4" width="10.8" height="10.8" fill="#dfe2e8"/>
<rect x="347.2" y="32" width="10.8" height="0.9" fill="#9a9ea8"/>
<rect x="348.20" y="26.6" width="1.8" height="5.2" fill="#2a8af8"/>
<rect x="350.65" y="22.6" width="1.8" height="9.2" fill="#2a8af8"/>
<rect x="353.10" y="24.6" width="1.8" height="7.2" fill="#2a8af8"/>
<rect x="355.55" y="27.4" width="1.8" height="4.4" fill="#2a8af8"/>
<path d="M348.2 22.6 l8.6 8.4 m0 -8.4 l-8.6 8.4" stroke="#f03c3c" stroke-width="1.1" fill="none"/>
<rect x="365.0" y="21.4" width="10.8" height="10.8" fill="#dfe2e8"/>
<rect x="365.0" y="32" width="10.8" height="0.9" fill="#9a9ea8"/>
<rect x="366.00" y="26.8" width="1.8" height="5.0" fill="#2a8af8"/>
<rect x="368.45" y="22.8" width="1.8" height="9.0" fill="#2a8af8"/>
<rect x="370.90" y="25.4" width="1.8" height="6.4" fill="#2a8af8"/>
<rect x="371.4" y="26.2" width="4" height="5.4" fill="#e8ecf4" stroke="#6a8ac8" stroke-width="0.4"/>
<text x="371.9" y="31" font-family="&quot;Liberation Sans&quot;,sans-serif" font-size="5.4" font-weight="bold" fill="#2a54a8">1</text>
<rect x="383.1" y="21.4" width="10.8" height="10.8" fill="#dfe2e8"/>
<rect x="383.1" y="32" width="10.8" height="0.9" fill="#9a9ea8"/>
<rect x="384.10" y="26.8" width="1.8" height="5.0" fill="#2a8af8"/>
<rect x="386.55" y="22.8" width="1.8" height="9.0" fill="#2a8af8"/>
<rect x="389.00" y="25.4" width="1.8" height="6.4" fill="#2a8af8"/>
<rect x="389.5" y="26.2" width="4" height="5.4" fill="#e8ecf4" stroke="#6a8ac8" stroke-width="0.4"/>
<text x="390.0" y="31" font-family="&quot;Liberation Sans&quot;,sans-serif" font-size="5.4" font-weight="bold" fill="#2a54a8">2</text>
<rect x="401.2" y="21.4" width="10.8" height="10.8" fill="#dfe2e8"/>
<rect x="401.2" y="32" width="10.8" height="0.9" fill="#9a9ea8"/>
<rect x="402.20" y="26.8" width="1.8" height="5.0" fill="#2a8af8"/>
<rect x="404.65" y="22.8" width="1.8" height="9.0" fill="#2a8af8"/>
<rect x="407.10" y="25.4" width="1.8" height="6.4" fill="#2a8af8"/>
<rect x="407.6" y="26.2" width="4" height="5.4" fill="#e8ecf4" stroke="#6a8ac8" stroke-width="0.4"/>
<text x="408.1" y="31" font-family="&quot;Liberation Sans&quot;,sans-serif" font-size="5.4" font-weight="bold" fill="#2a54a8">3</text>
<rect x="419.3" y="21.4" width="10.8" height="10.8" fill="#dfe2e8"/>
<rect x="419.3" y="32" width="10.8" height="0.9" fill="#9a9ea8"/>
<rect x="420.30" y="26.8" width="1.8" height="5.0" fill="#2a8af8"/>
<rect x="422.75" y="22.8" width="1.8" height="9.0" fill="#2a8af8"/>
<rect x="425.20" y="25.4" width="1.8" height="6.4" fill="#2a8af8"/>
<rect x="425.7" y="26.2" width="4" height="5.4" fill="#e8ecf4" stroke="#6a8ac8" stroke-width="0.4"/>
<text x="426.2" y="31" font-family="&quot;Liberation Sans&quot;,sans-serif" font-size="5.4" font-weight="bold" fill="#2a54a8">4</text>
<rect x="437.4" y="21.4" width="10.8" height="10.8" fill="#dfe2e8"/>
<rect x="437.4" y="32" width="10.8" height="0.9" fill="#9a9ea8"/>
<rect x="438.40" y="26.8" width="1.8" height="5.0" fill="#2a8af8"/>
<rect x="440.85" y="22.8" width="1.8" height="9.0" fill="#2a8af8"/>
<rect x="443.30" y="25.4" width="1.8" height="6.4" fill="#2a8af8"/>
<rect x="443.8" y="26.2" width="4" height="5.4" fill="#e8ecf4" stroke="#6a8ac8" stroke-width="0.4"/>
<text x="444.3" y="31" font-family="&quot;Liberation Sans&quot;,sans-serif" font-size="5.4" font-weight="bold" fill="#2a54a8">5</text>
<path d="M466.2 23.6 A4.2 4.2 0 1 0 468.4 29.4" fill="none" stroke="#2a8ae8" stroke-width="1.6"/>
<path d="M461.6 22 l4.2 -0.6 l-0.4 4 z" fill="#2a5ce0"/>
<text x="465.8" y="29.6" font-family="&quot;Liberation Sans&quot;,sans-serif" font-size="6.6" font-weight="bold" fill="#2a7ad8">R</text>
<g transform="translate(-0.9 0.7) rotate(45 1007.5 27)"><rect x="1006" y="25.4" width="3" height="9.4" rx="1.4" fill="#6a62ff"/><path d="M1003.3 20.6 a4.2 4.2 0 1 0 8.4 0 l-2.6 -0.6 l0 3.2 l-3.2 0 l0 -3.2 z" fill="#6a62ff"/></g>
</svg>
</body></html>
